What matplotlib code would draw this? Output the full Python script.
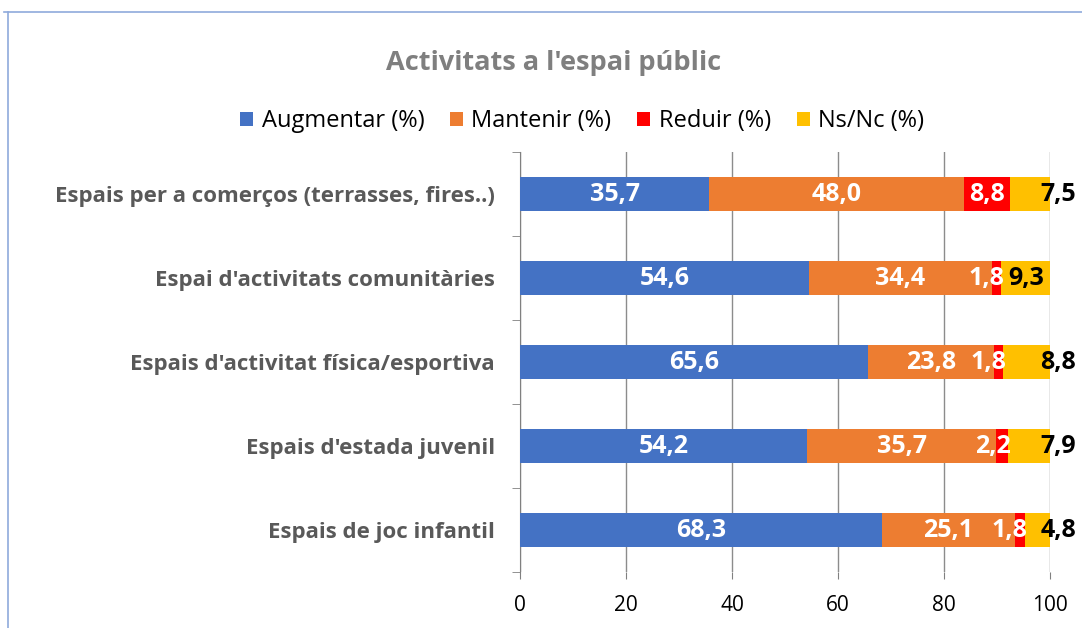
import numpy as np
import matplotlib
matplotlib.use('Agg')
import matplotlib.pyplot as plt
from matplotlib.lines import Line2D

plt.rcParams['font.family'] = ['Open Sans', 'DejaVu Sans']

categories = ["Espais per a comerços (terrasses, fires..)",
              "Espai d'activitats comunitàries",
              "Espais d'activitat física/esportiva",
              "Espais d'estada juvenil",
              "Espais de joc infantil"]
augmentar = [35.7, 54.6, 65.6, 54.2, 68.3]
mantenir = [48.0, 34.4, 23.8, 35.7, 25.1]
reduir = [8.8, 1.8, 1.8, 2.2, 1.8]
nsnc = [7.5, 9.3, 8.8, 7.9, 4.8]
series_names = ['Augmentar (%)', 'Mantenir (%)', 'Reduir (%)', 'Ns/Nc (%)']
colors = ['#4472c4', '#ed7d31', '#ff0000', '#ffc000']
label_colors = ['white', 'white', 'white', 'black']

fig = plt.figure(figsize=(10.82, 6.28), dpi=100)
ax = fig.add_axes([0.4806, 0.0887, 0.4898, 0.6693])

y = np.arange(len(categories))
left = np.zeros(len(categories))
for k, (name, vals) in enumerate(zip(series_names, [augmentar, mantenir, reduir, nsnc])):
    vals = np.array(vals)
    ax.barh(y, vals, left=left, height=0.4, color=colors[k], label=name, zorder=3)
    for yi, l, v in zip(y, left, vals):
        xc, ha = l + v / 2, 'center'
        if k == 2 and v < 5:
            # thin red slices: label ends at the slice end
            xc, ha = l + v + 0.6, 'right'
        if k == 3 and v < 9:
            # Ns/Nc labels pushed over the right edge
            xc, ha = 98.2, 'left'
        ax.text(xc, yi, f"{v:.1f}".replace('.', ','), ha=ha, va='center',
                color=label_colors[k], fontsize=18, fontweight='bold', zorder=4, clip_on=False)
    left = left + vals

ax.set_xlim(0, 100)
ax.set_ylim(len(categories) - 0.5, -0.5)
ax.set_xticks([0, 20, 40, 60, 80, 100])
ax.set_yticks(y)
ax.set_yticklabels(categories, fontsize=16, fontweight='bold', color='#595959')
ax.set_yticks(np.arange(-0.5, len(categories), 1), minor=True)
ax.tick_params(axis='y', which='major', length=0, pad=18)
ax.tick_params(axis='y', which='minor', length=6, color='#808080')
ax.tick_params(axis='x', length=5, color='#808080', labelsize=15, pad=11)
ax.grid(axis='x', color='#8c8c8c', linewidth=1, zorder=0)
for s in ['top', 'right', 'bottom']:
    ax.spines[s].set_visible(False)
ax.spines['left'].set_color('#808080')

fig.text(0.512, 0.9, "Activitats a l'espai públic", ha='center', va='center',
         fontsize=19.5, fontweight='bold', color='#7f7f7f')
fig.legend(loc='center', bbox_to_anchor=(0.538, 0.807), ncol=4, frameon=False,
           fontsize=17, handlelength=0.55, handleheight=0.55, columnspacing=1.1,
           handletextpad=0.35)

# chart frame edge
fig.add_artist(Line2D([0.004, 1.0], [0.981, 0.981], color='#8faadc', linewidth=1.2))
fig.add_artist(Line2D([0.007, 0.007], [0.0, 0.981], color='#8faadc', linewidth=1.2))

fig.savefig('out.png', dpi=100)
